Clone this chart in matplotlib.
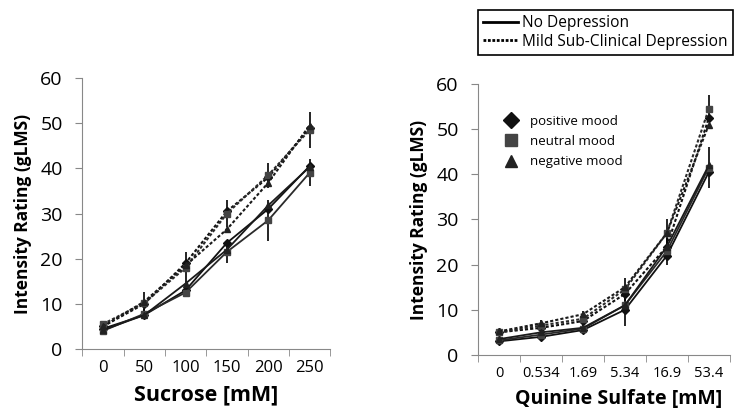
import numpy as np
import matplotlib
matplotlib.use("Agg")
import matplotlib.pyplot as plt
from matplotlib.lines import Line2D

plt.rcParams['font.family'] = ['Open Sans', 'DejaVu Sans']

# Sucrose panel
sucrose_labels = ['0', '50', '100', '150', '200', '250']
suc_nodep_pos = [4.5, 7.5, 13.0, 23.5, 31.0, 40.5]
suc_nodep_neu = [4.0, 7.8, 12.5, 21.5, 28.5, 39.0]
suc_nodep_neg = [4.2, 7.5, 14.5, 22.0, 31.8, 40.3]
suc_mild_pos = [5.0, 10.0, 19.0, 30.5, 38.0, 49.0]
suc_mild_neu = [5.5, 10.2, 18.0, 30.0, 38.5, 48.5]
suc_mild_neg = [5.0, 10.5, 18.5, 26.5, 36.8, 49.5]
suc_err_nodep = [0.5, 1.0, 1.0, 2.5, 4.5, 3.0]
suc_err_mild = [0.8, 2.5, 3.5, 3.0, 2.8, 4.0]

# Quinine panel
quinine_labels = ['0', '0.534', '1.69', '5.34', '16.9', '53.4']
qui_nodep_pos = [3.0, 4.0, 5.5, 10.0, 22.0, 40.5]
qui_nodep_neu = [3.2, 4.5, 5.8, 11.0, 23.0, 41.5]
qui_nodep_neg = [3.5, 5.0, 6.0, 11.0, 24.0, 42.0]
qui_mild_pos = [5.0, 6.0, 7.5, 13.5, 24.0, 52.5]
qui_mild_neu = [5.0, 6.5, 8.0, 14.5, 27.0, 54.5]
qui_mild_neg = [5.2, 7.0, 9.0, 15.0, 27.0, 51.0]
qui_err_nodep = [0.5, 0.8, 0.8, 4.5, 3.0, 4.5]
qui_err_mild = [0.8, 1.2, 1.8, 2.5, 3.0, 3.0]

mood_names = ['positive mood', 'neutral mood', 'negative mood']
mood_markers = ['D', 's', '^']
mood_colors = ['#111111', '#444444', '#222222']
line_colors = ['#111111', '#2a2a2a', '#1a1a1a']
dotted = (0, (1.5, 1))

fig = plt.figure(figsize=(7.47, 4.20), dpi=100)
ax1 = fig.add_axes([0.110, 0.169, 0.332, 0.645])
ax2 = fig.add_axes([0.640, 0.155, 0.337, 0.645])


def draw_panel(ax, labels, nodep, mild, err_nodep, err_mild):
    x = np.arange(len(labels))
    for i in range(3):
        ax.errorbar(x, nodep[i], yerr=err_nodep if i == 1 else None,
                    color=line_colors[i], mfc=mood_colors[i], mec=mood_colors[i],
                    ecolor='black', elinewidth=1.2,
                    marker=mood_markers[i], markersize=4.5, linewidth=1.3,
                    linestyle='-')
        ax.errorbar(x, mild[i], yerr=err_mild if i == 1 else None,
                    color=line_colors[i], mfc=mood_colors[i], mec=mood_colors[i],
                    ecolor='black', elinewidth=1.2,
                    marker=mood_markers[i], markersize=4.5, linewidth=1.5,
                    linestyle=dotted)
    ax.set_xlim(-0.5, len(labels) - 0.5)
    ax.set_ylim(0, 60)
    ax.set_yticks(range(0, 61, 10))
    ax.set_xticks(x)
    ax.set_xticklabels(labels)
    ax.set_xticks(np.arange(-0.5, len(labels), 1), minor=True)
    ax.tick_params(axis='x', which='major', length=0, pad=8)
    ax.tick_params(axis='x', which='minor', length=5, color='#888888')
    ax.tick_params(axis='y', length=5, color='#888888', labelsize=14, pad=9)
    for s in ['top', 'right']:
        ax.spines[s].set_visible(False)
    for s in ['left', 'bottom']:
        ax.spines[s].set_color('#888888')
    ax.set_ylabel('Intensity Rating (gLMS)', fontsize=12.5, fontweight='bold',
                  labelpad=6)


draw_panel(ax1, sucrose_labels,
           [suc_nodep_pos, suc_nodep_neu, suc_nodep_neg],
           [suc_mild_pos, suc_mild_neu, suc_mild_neg],
           suc_err_nodep, suc_err_mild)
ax1.tick_params(axis='x', labelsize=12)
ax1.set_xlabel('Sucrose [mM]', fontsize=15.5, fontweight='bold', labelpad=6)

draw_panel(ax2, quinine_labels,
           [qui_nodep_pos, qui_nodep_neu, qui_nodep_neg],
           [qui_mild_pos, qui_mild_neu, qui_mild_neg],
           qui_err_nodep, qui_err_mild)
ax2.tick_params(axis='x', labelsize=10.5)
ax2.set_xlabel('Quinine Sulfate [mM]', fontsize=14, fontweight='bold', labelpad=5)
ax2.xaxis.set_label_coords(0.56, -0.125)

# mood marker legend
mood_handles = [Line2D([], [], linestyle='none', marker=m, color=c, markersize=8)
                for m, c in zip(mood_markers, mood_colors)]
ax2.legend(mood_handles, mood_names, loc='upper left', bbox_to_anchor=(0.03, 0.93),
           frameon=False, fontsize=9.5, handletextpad=0.5, labelspacing=0.55)

# depression line style legend
dep_handles = [Line2D([], [], color='black', linewidth=2, linestyle='-'),
               Line2D([], [], color='black', linewidth=2, linestyle=(0, (1, 0.6)))]
leg = fig.legend(dep_handles, ['No Depression', 'Mild Sub-Clinical Depression'],
                 loc='upper right', bbox_to_anchor=(0.992, 0.995), fontsize=11.2,
                 fancybox=False, edgecolor='black', framealpha=1,
                 handlelength=2.2, handletextpad=0.3, labelspacing=0.15,
                 borderpad=0.35)
leg.get_frame().set_linewidth(1.2)

fig.savefig('out.png', dpi=100)
